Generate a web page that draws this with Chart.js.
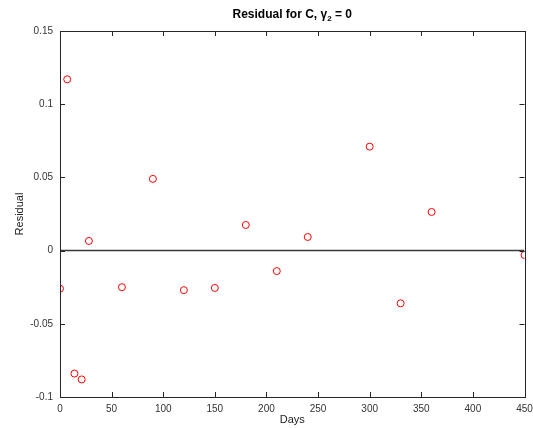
<!DOCTYPE html>
<html>
<head>
<meta charset="utf-8">
<script src="https://cdn.jsdelivr.net/npm/chart.js@4/dist/chart.umd.min.js"></script>
<style>
  html, body { margin: 0; padding: 0; background: #fff; }
  #wrap { width: 533px; height: 428px; position: relative; }
</style>
</head>
<body>
<div id="wrap"><canvas id="resChart" width="533" height="428"></canvas></div>
<script>
// data
const days = [0, 7, 14, 21, 28, 60, 90, 120, 150, 180, 210, 240, 300, 330, 360, 450];
const residuals = [-0.026, 0.117, -0.084, -0.088, 0.0066, -0.025, 0.049, -0.027, -0.0255, 0.0175, -0.014, 0.0093, 0.071, -0.036, 0.0264, -0.003];
const xTicks = [0, 50, 100, 150, 200, 250, 300, 350, 400, 450];
const yTicks = [-0.1, -0.05, 0, 0.05, 0.1, 0.15];
const yTickLabels = ['-0.1', '-0.05', '0', '0.05', '0.1', '0.15'];

const FONT = '"Liberation Sans", Arial, Helvetica, sans-serif';

// box round the plot, with inward ticks on all four sides, and the title
const framePlugin = {
    id: 'frame',
    afterDraw(chart) {
        const { ctx, chartArea: a, scales } = chart;
        ctx.save();
        ctx.strokeStyle = '#262626';
        ctx.lineWidth = 1;
        ctx.strokeRect(Math.round(a.left) + 0.5, Math.round(a.top) + 0.5,
            Math.round(a.right - a.left), Math.round(a.bottom - a.top));
        const len = 5;
        ctx.beginPath();
        xTicks.forEach(v => {
            const px = Math.round(scales.x.getPixelForValue(v)) + 0.5;
            ctx.moveTo(px, a.bottom); ctx.lineTo(px, a.bottom - len);
            ctx.moveTo(px, a.top); ctx.lineTo(px, a.top + len);
        });
        yTicks.forEach(v => {
            const py = Math.round(scales.y.getPixelForValue(v)) + 0.5;
            ctx.moveTo(a.left, py); ctx.lineTo(a.left + len, py);
            ctx.moveTo(a.right, py); ctx.lineTo(a.right - len, py);
        });
        ctx.stroke();

        // title with subscript
        const cx = (a.left + a.right) / 2;
        const y = 15;
        const big = 'bold 12px ' + FONT;
        const small = 'bold 8px ' + FONT;
        const p1 = 'Residual for C, \u03b3', p2 = '2', p3 = ' = 0';
        ctx.font = big;
        const w1 = ctx.measureText(p1).width, w3 = ctx.measureText(p3).width;
        ctx.font = small;
        const w2 = ctx.measureText(p2).width;
        let x = cx - (w1 + w2 + w3) / 2;
        ctx.fillStyle = '#000';
        ctx.textBaseline = 'middle';
        ctx.textAlign = 'left';
        ctx.font = big; ctx.fillText(p1, x, y); x += w1;
        ctx.font = small; ctx.fillText(p2, x, y + 4); x += w2;
        ctx.font = big; ctx.fillText(p3, x, y);
        ctx.restore();
    }
};

const ctx = document.getElementById('resChart').getContext('2d');
const resChart = new Chart(ctx, {
    data: {
        datasets: [{
            type: 'line',
            data: [{ x: xTicks[0], y: 0 }, { x: xTicks[xTicks.length - 1], y: 0 }],
            borderColor: '#3a3a3a',
            borderWidth: 1.5,
            pointRadius: 0,
            order: 2
        }, {
            type: 'scatter',
            data: days.map((d, i) => ({ x: d, y: residuals[i] })),
            borderColor: '#ff0000',
            backgroundColor: 'rgba(0,0,0,0)',
            borderWidth: 1,
            pointRadius: 3.5,
            pointHoverRadius: 3.5,
            order: 1
        }]
    },
    options: {
        responsive: false,
        animation: false,
        layout: { padding: { top: 31, right: 0, left: 0, bottom: 0 } },
        plugins: { legend: { display: false }, tooltip: { enabled: false }, title: { display: false } },
        scales: {
            x: {
                type: 'linear',
                min: 0, max: 450,
                grid: { display: false, drawTicks: false },
                border: { display: false },
                afterBuildTicks: s => { s.ticks = xTicks.map(v => ({ value: v })); },
                afterFit: s => { s.height = 31; s.paddingRight = 8.5; s.paddingLeft = 0; },
                ticks: { color: '#333', font: { family: FONT, size: 10 }, padding: 6, maxRotation: 0 },
                title: { display: true, text: 'Days', color: '#222', font: { family: FONT, size: 11 }, padding: { top: 0, bottom: 1 } }
            },
            y: {
                type: 'linear',
                min: -0.1, max: 0.15,
                grid: { display: false, drawTicks: false },
                border: { display: false },
                afterBuildTicks: s => { s.ticks = yTicks.map(v => ({ value: v })); },
                afterFit: s => { s.width = 60; },
                ticks: {
                    color: '#333', font: { family: FONT, size: 10 }, padding: 7,
                    callback: (v) => yTickLabels[yTicks.findIndex(t => Math.abs(t - v) < 1e-9)]
                },
                title: { display: true, text: 'Residual', color: '#222', font: { family: FONT, size: 11 }, padding: { top: 13, bottom: 0 } }
            }
        }
    },
    plugins: [framePlugin]
});
</script>
</body>
</html>
